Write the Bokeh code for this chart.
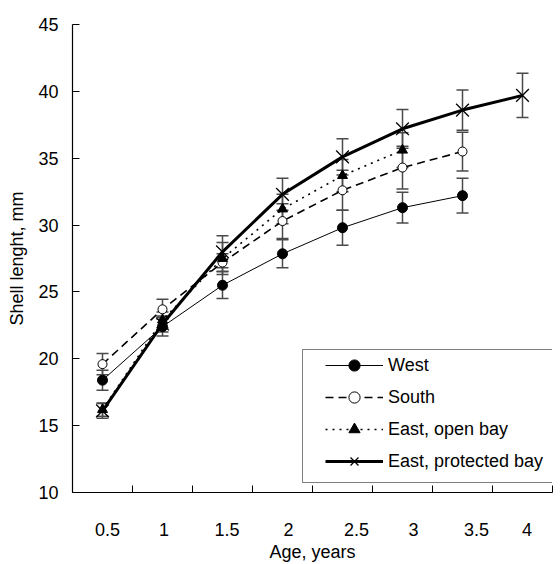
from bokeh.plotting import figure
from bokeh.models import (ColumnDataSource, Whisker, TeeHead, FixedTicker,
                          Range1d, Legend, LegendItem)
from bokeh.embed import file_html
from bokeh.resources import INLINE

# ---- data -------------------------------------------------------------
ages = [0.5, 1, 1.5, 2, 2.5, 3, 3.5, 4]
tick_labels = ["0.5", "1", "1.5", "2", "2.5", "3", "3.5", "4"]
tick_label_shift = [0.042, 0.012, 0.037, 0.05, 0.117, 0.092, 0.117, 0.037]

west = [18.4, 22.4, 25.5, 27.85, 29.8, 31.3, 32.2]
west_err = [0.75, 0.7, 1.0, 1.05, 1.3, 1.15, 1.3]

south = [19.6, 23.7, 27.2, 30.3, 32.6, 34.3, 35.5]
south_err = [0.8, 0.75, 0.65, 1.3, 1.5, 1.6, 1.45]

open_bay = [16.2, 22.9, 27.5, 31.2, 33.7, 35.6]
open_bay_err = [0.5, 0.6, 1.2, 1.1, 1.2, 1.3]

protected = [16.1, 22.6, 28.0, 32.3, 35.1, 37.2, 38.6, 39.7]
protected_err = [0.55, 0.6, 1.2, 1.2, 1.35, 1.45, 1.5, 1.65]

y_ticks = [10, 15, 20, 25, 30, 35, 40, 45]

FONT = "Liberation Sans"
FS = "18px"

half = (ages[1] - ages[0]) / 2
x_start = ages[0] - half
x_end = ages[-1] + half

p = figure(width=560, height=564, output_backend="svg", toolbar_location=None,
           x_range=Range1d(x_start, x_end), y_range=Range1d(10, 45),
           min_border_left=72, min_border_right=8, min_border_top=24,
           min_border_bottom=72)
p.outline_line_color = None
p.xgrid.visible = False
p.ygrid.visible = False
p.background_fill_color = "white"

# axes
xa = p.xaxis[0]
xa.ticker = FixedTicker(ticks=[a + s for a, s in zip(ages, tick_label_shift)],
                        minor_ticks=[a - half for a in ages] + [x_end])
xa.major_label_overrides = {a + s: t for a, s, t in zip(ages, tick_label_shift, tick_labels)}
xa.major_tick_in = 0
xa.major_tick_out = 0
xa.minor_tick_in = 7
xa.minor_tick_out = 0
xa.minor_tick_line_color = "black"
xa.major_label_standoff = 30
xa.axis_label = "Age, years"
xa.axis_label_standoff = 3

ya = p.yaxis[0]
ya.ticker = FixedTicker(ticks=y_ticks)
ya.major_tick_in = 7
ya.major_tick_out = 0
ya.minor_tick_in = 0
ya.minor_tick_out = 0
ya.major_label_standoff = 14
ya.axis_label = "Shell lenght, mm"
ya.axis_label_standoff = 8

for ax in (xa, ya):
    ax.axis_line_color = "black"
    ax.axis_line_width = 1.2
    ax.major_tick_line_color = "black"
    ax.major_label_text_font = FONT
    ax.major_label_text_font_size = FS
    ax.major_label_text_color = "black"
    ax.axis_label_text_font = FONT
    ax.axis_label_text_font_size = FS
    ax.axis_label_text_font_style = "normal"
    ax.axis_label_text_color = "black"

ERR_COLOR = "#4a4a4a"

series = [
    ("West", west, west_err, dict(line_width=1, line_dash="solid"),
     dict(marker="circle", size=10, fill_color="black", line_color="black")),
    ("South", south, south_err, dict(line_width=1.6, line_dash="8 5"),
     dict(marker="circle", size=9, fill_color="white", line_color="black", line_width=1)),
    ("East, open bay", open_bay, open_bay_err, dict(line_width=1.6, line_dash="2 5"),
     dict(marker="triangle", size=10, fill_color="black", line_color="black")),
    ("East, protected bay", protected, protected_err, dict(line_width=3, line_dash="solid"),
     dict(marker="x", size=18, line_color="black", line_width=1.3)),
]

items = []
for name, vals, errs, lstyle, mstyle in series:
    xs = ages[:len(vals)]
    src = ColumnDataSource(dict(x=xs, y=vals,
                                upper=[v + e for v, e in zip(vals, errs)],
                                lower=[v - e for v, e in zip(vals, errs)]))
    w = Whisker(source=src, base="x", upper="upper", lower="lower",
                line_color=ERR_COLOR, line_width=1.5, level="underlay",
                upper_head=TeeHead(size=12, line_color=ERR_COLOR, line_width=1.5),
                lower_head=TeeHead(size=12, line_color=ERR_COLOR, line_width=1.5))
    p.add_layout(w)
    lr = p.line("x", "y", source=src, line_color="black", **lstyle)
    sr = p.scatter("x", "y", source=src, **mstyle)
    items.append(LegendItem(label=name, renderers=[lr, sr]))

legend = Legend(items=items, location=(230, 9),
                padding=dict(left=22, right=6, top=1, bottom=7), spacing=4,
                label_height=28, glyph_height=28, glyph_width=58,
                label_standoff=5, label_width=165, margin=0,
                border_line_color="black", border_line_width=1,
                background_fill_color="white", background_fill_alpha=1,
                label_text_font=FONT, label_text_font_size=FS,
                label_text_color="black")
p.add_layout(legend, "center")

open("out.html", "w").write(file_html(p, INLINE))
